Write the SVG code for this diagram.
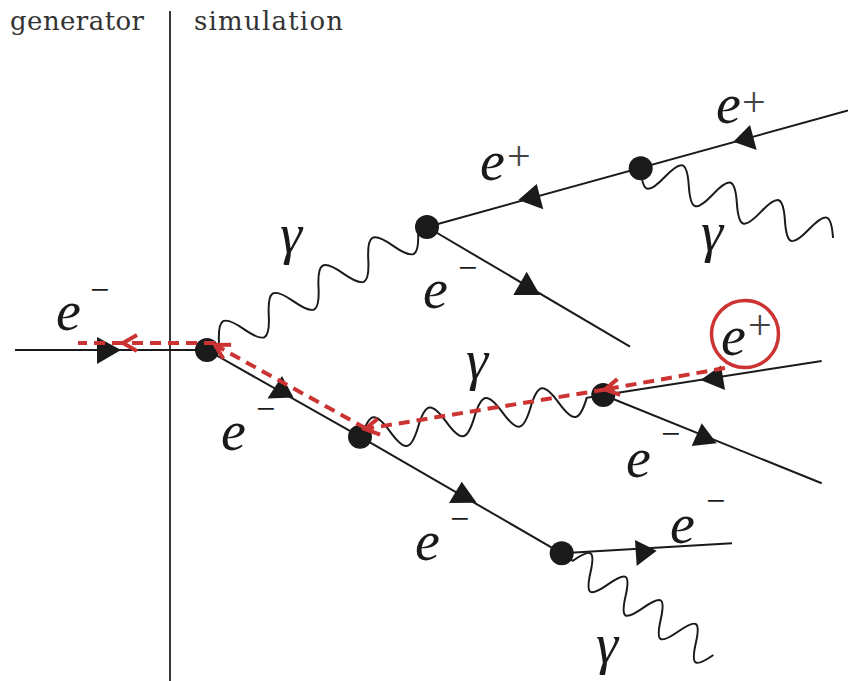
<svg xmlns="http://www.w3.org/2000/svg" width="848" height="681" viewBox="0 0 848 681">
<style>
.ln{stroke:#1a1a1a;stroke-width:2;fill:none}
.ph{stroke:#1a1a1a;stroke-width:2;fill:none}
.ar{fill:#1a1a1a}
.dot{fill:#1a1a1a}
.hd{font-family:"DejaVu Serif","Liberation Serif",serif;font-size:26px;fill:#333}
.m{font-family:"Liberation Serif","DejaVu Serif",serif;font-style:italic;font-size:56px;fill:#1a1a1a}
.sp{font-style:normal;font-size:34px}
.pl{font-style:normal;font-size:42px;fill:#444}
.rd{stroke:#cc3333;stroke-width:4;fill:none;stroke-dasharray:11 7}
</style>
<defs>
<marker id="chev" markerUnits="userSpaceOnUse" markerWidth="30" markerHeight="30" viewBox="-20 -15 30 30" refX="0" refY="0" orient="auto">
<path d="M-14,-8 L0,0 L-14,8" fill="none" stroke="#cc3333" stroke-width="4"/>
</marker>
</defs>
<rect width="848" height="681" fill="#fff"/>
<g id="header">
<text class="hd" x="10" y="30" textLength="134">generator</text>
<text class="hd" x="194" y="30" textLength="149">simulation</text>
<line x1="170" y1="11" x2="170" y2="681" stroke="#3a3a3a" stroke-width="2"/>
</g>
<g id="connectors">
<line class="ln" x1="15" y1="350" x2="207" y2="350"/>
<line class="ln" x1="207" y1="350" x2="360" y2="436.7"/>
<line class="ln" x1="360" y1="436.7" x2="561.7" y2="553.3"/>
<line class="ln" x1="561.7" y1="553.3" x2="732" y2="543.3"/>
<line class="ln" x1="427" y1="227" x2="630" y2="346.7"/>
<line class="ln" x1="427" y1="227" x2="848" y2="110.5"/>
<line class="ln" x1="603.3" y1="395" x2="821.7" y2="361"/>
<line class="ln" x1="603.3" y1="395" x2="821.7" y2="483.3"/>
<path class="ph" transform="translate(219,343) rotate(-29.15)" d="M0,0 c11.11,-22.67 17.38,-22.67 28.49,0 c11.11,22.67 17.38,22.67 28.49,0 c11.11,-22.67 17.38,-22.67 28.49,0 c11.11,22.67 17.38,22.67 28.49,0 c11.11,-22.67 17.38,-22.67 28.49,0 c11.11,22.67 17.38,22.67 28.49,0 c11.11,-22.67 17.38,-22.67 28.49,0 c11.11,22.67 17.38,22.67 28.49,0 h10.3"/>
<path class="ph" transform="translate(640.7,168.3) rotate(19.92)" d="M0,0 c9.97,22.67 15.6,22.67 25.57,0 c9.97,-22.67 15.6,-22.67 25.57,0 c9.97,22.67 15.6,22.67 25.57,0 c9.97,-22.67 15.6,-22.67 25.57,0 c9.97,22.67 15.6,22.67 25.57,0 c9.97,-22.67 15.6,-22.67 25.57,0 c9.97,22.67 15.6,22.67 25.57,0 c9.97,-22.67 15.6,-22.67 25.57,0"/>
<path class="ph" transform="translate(362,436.4) rotate(-9.73)" d="M-2,0 h2 c11.12,-22.67 17.38,-22.67 28.5,0 c11.12,22.67 17.38,22.67 28.5,0 c11.12,-22.67 17.38,-22.67 28.5,0 c11.12,22.67 17.38,22.67 28.5,0 c11.12,-22.67 17.38,-22.67 28.5,0 c11.12,22.67 17.38,22.67 28.5,0 c11.12,-22.67 17.38,-22.67 28.5,0 c11.12,22.67 17.38,22.67 28.5,0 h16.9"/>
<path class="ph" transform="translate(572.9,560.8) rotate(33.86)" d="M-13.5,0 h13.5 c8.24,-21.33 12.9,-21.33 21.14,0 c8.24,21.33 12.9,21.33 21.14,0 c8.24,-21.33 12.9,-21.33 21.14,0 c8.24,21.33 12.9,21.33 21.14,0 c8.24,-21.33 12.9,-21.33 21.14,0 c8.24,21.33 12.9,21.33 21.14,0 c8.24,-21.33 12.9,-21.33 21.14,0 c8.24,21.33 12.9,21.33 21.14,0"/>
<polygon class="ar" points="97,337 121,350 97,364"/>
<polygon class="ar" points="282,376 267.5,398.5 293.5,397.5"/>
<polygon class="ar" points="461.7,481.7 449,503 476.7,502.7"/>
<polygon class="ar" points="526.7,271.7 513.3,295 540,295"/>
<polygon class="ar" points="518.3,200 536.7,184 543.3,209.3"/>
<polygon class="ar" points="733.3,141.7 750,125 756.7,150"/>
<polygon class="ar" points="700.5,380 721,365.5 725,390"/>
<polygon class="ar" points="691.7,446 701.7,423.3 716.7,443.3"/>
<polygon class="ar" points="635,540 656.7,550.7 636.7,566"/>
</g>
<g id="v1"><circle class="dot" cx="207" cy="350" r="12"/></g>
<g id="v2"><circle class="dot" cx="427" cy="227" r="12"/></g>
<g id="v3"><circle class="dot" cx="640.7" cy="168.3" r="12"/></g>
<g id="v4"><circle class="dot" cx="360" cy="436.7" r="12"/></g>
<g id="v5"><circle class="dot" cx="603.3" cy="395" r="12"/></g>
<g id="v6"><circle class="dot" cx="561.7" cy="553.3" r="12"/></g>
<g id="labels">
<text class="m" x="56" y="330">e<tspan class="sp" x="90" y="300.5">−</tspan></text>
<text class="m" x="221" y="450">e<tspan class="sp" x="256" y="420">−</tspan></text>
<text class="m" x="280" y="253">γ</text>
<text class="m" x="480" y="180">e<tspan class="pl" x="507" y="170">+</tspan></text>
<text class="m" x="716" y="123">e<tspan class="pl" x="742" y="116">+</tspan></text>
<text class="m" x="701" y="251">γ</text>
<text class="m" x="423" y="308">e<tspan class="sp" x="458" y="278.5">−</tspan></text>
<text class="m" x="721" y="355">e<tspan class="pl" x="748" y="339">+</tspan></text>
<text class="m" x="466" y="379">γ</text>
<text class="m" x="626" y="477">e<tspan class="sp" x="661" y="445">−</tspan></text>
<text class="m" x="415" y="560">e<tspan class="sp" x="450" y="530">−</tspan></text>
<text class="m" x="670" y="543">e<tspan class="sp" x="706" y="511.5">−</tspan></text>
<text class="m" x="596" y="663">γ</text>
</g>
<g id="trace">
<circle cx="745" cy="334" r="33.5" fill="none" stroke="#cc3333" stroke-width="3.5"/>
<path class="rd" d="M725,368 L605,389.5" marker-end="url(#chev)"/>
<path class="rd" d="M605,389.5 L365,429" marker-end="url(#chev)"/>
<path class="rd" d="M366,428.5 L215,345" marker-end="url(#chev)"/>
<path class="rd" d="M215,343 L123,343" marker-end="url(#chev)"/>
<path class="rd" d="M123,343 L78,343" stroke-dasharray="4 8"/>
</g>
</svg>
